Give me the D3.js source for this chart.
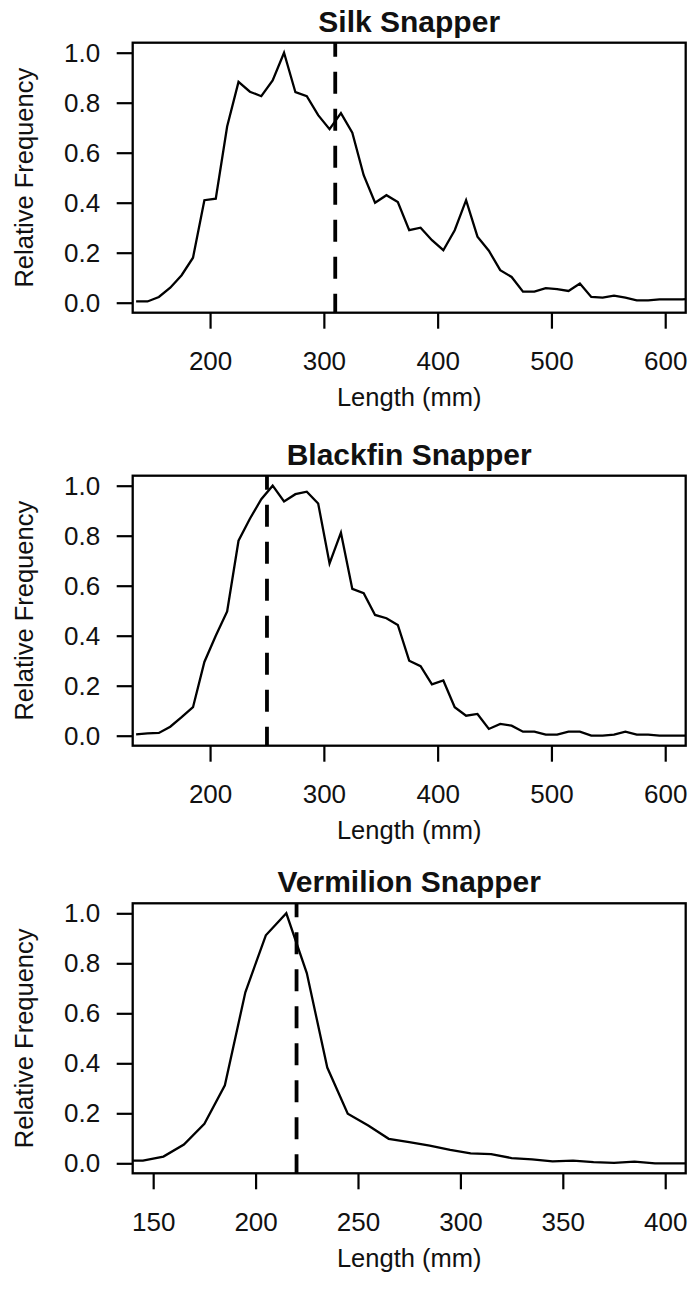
<!DOCTYPE html>
<html>
<head>
<meta charset="utf-8">
<script src="https://cdn.jsdelivr.net/npm/d3@7"></script>
<style>
  html, body { margin: 0; padding: 0; background: #fff; }
  svg { display: block; }
  text { font-family: "Liberation Sans", Arial, Helvetica, sans-serif; fill: #111; }
</style>
</head>
<body>
<svg id="chart" width="699" height="1298"></svg>
<script>
// ---------------- data ----------------
const silkLength = [135,145,155,165,175,185,195,205,215,225,235,245,255,265,275,285,295,305,315,325,335,345,355,365,375,385,395,405,415,425,435,445,455,465,475,485,495,505,515,525,535,545,555,565,575,585,595,605,615,625];
const silkFreq   = [0.005,0.005,0.023,0.06,0.11,0.18,0.41,0.416,0.705,0.883,0.844,0.826,0.889,1.0,0.842,0.826,0.75,0.694,0.758,0.68,0.51,0.40,0.43,0.403,0.29,0.30,0.25,0.21,0.29,0.41,0.264,0.208,0.13,0.103,0.044,0.044,0.058,0.054,0.047,0.077,0.023,0.02,0.028,0.02,0.009,0.009,0.013,0.013,0.013,0.017];
const silkMean = 310;

const blackfinLength = [135,145,155,165,175,185,195,205,215,225,235,245,255,265,275,285,295,305,315,325,335,345,355,365,375,385,395,405,415,425,435,445,455,465,475,485,495,505,515,525,535,545,555,565,575,585,595,605,615,625];
const blackfinFreq   = [0.005,0.009,0.011,0.036,0.074,0.114,0.295,0.40,0.497,0.78,0.868,0.946,1.0,0.937,0.966,0.976,0.929,0.689,0.812,0.587,0.57,0.483,0.47,0.443,0.30,0.278,0.205,0.221,0.114,0.08,0.087,0.027,0.047,0.04,0.016,0.016,0.004,0.004,0.016,0.016,0.0,0.0,0.004,0.016,0.004,0.004,0.0,0.0,0.0,0.0];
const blackfinMean = 250;

const vermilionLength = [135,145,155,165,175,185,195,205,215,225,235,245,255,265,275,285,295,305,315,325,335,345,355,365,375,385,395,405,415];
const vermilionFreq   = [0.01,0.011,0.027,0.075,0.158,0.312,0.684,0.912,1.0,0.761,0.383,0.198,0.151,0.098,0.085,0.071,0.054,0.04,0.037,0.021,0.016,0.008,0.011,0.005,0.002,0.007,0.0,0.0,0.0];
const vermilionMean = 220;

const titles = ["Silk Snapper", "Blackfin Snapper", "Vermilion Snapper"];
const xTicksWide = [200, 300, 400, 500, 600];
const xTicksNarrow = [150, 200, 250, 300, 350, 400];
const yTicks = [0, 0.2, 0.4, 0.6, 0.8, 1.0];
const xLabel = "Length (mm)";
const yLabel = "Relative Frequency";

// ---------------- layout ----------------
const panels = [
  { title: titles[0], len: silkLength, freq: silkFreq, mean: silkMean, xdom: [132, 618], xticks: xTicksWide, top: 42.7 },
  { title: titles[1], len: blackfinLength, freq: blackfinFreq, mean: blackfinMean, xdom: [132, 618], xticks: xTicksWide, top: 475.7 },
  { title: titles[2], len: vermilionLength, freq: vermilionFreq, mean: vermilionMean, xdom: [140, 410], xticks: xTicksNarrow, top: 903.3 }
];
const left = 132.7, right = 685.7, boxH = 270;

const svg = d3.select("#chart");

panels.forEach((p, i) => {
  const top = p.top, bottom = top + boxH;
  const x = d3.scaleLinear().domain(p.xdom).range([left, right]);
  const y = d3.scaleLinear().domain([-0.04, 1.04]).range([bottom, top]);
  const g = svg.append("g");

  const clipId = "clip" + i;
  svg.append("clipPath").attr("id", clipId)
    .append("rect").attr("x", left).attr("y", top).attr("width", right - left).attr("height", boxH);

  // data line
  const pts = p.len.map((d, k) => [d, p.freq[k]]);
  g.append("path")
    .datum(pts)
    .attr("clip-path", `url(#${clipId})`)
    .attr("fill", "none")
    .attr("stroke", "#000")
    .attr("stroke-width", 2.3)
    .attr("stroke-linejoin", "miter")
    .attr("d", d3.line().x(d => x(d[0])).y(d => y(d[1])));

  // dashed mean line (drawn bottom to top)
  g.append("line")
    .attr("x1", x(p.mean)).attr("x2", x(p.mean))
    .attr("y1", bottom).attr("y2", top)
    .attr("stroke", "#000")
    .attr("stroke-width", 3.8)
    .attr("stroke-dasharray", "22,15")
    .attr("stroke-dashoffset", 3);

  // x axis
  const xa = g.append("g").attr("transform", `translate(0,${bottom})`)
    .call(d3.axisBottom(x).tickValues(p.xticks).tickSize(16).tickFormat(d3.format("d")));
  xa.select(".domain").remove();
  xa.selectAll("line").attr("stroke", "#000").attr("stroke-width", 2.2);
  xa.selectAll("text").attr("dy", null).attr("y", 57.5)
    .style("font-size", "26px").style("font-family", '"Liberation Sans", Arial, sans-serif').attr("fill", "#111");

  // y axis
  const ya = g.append("g").attr("transform", `translate(${left},0)`)
    .call(d3.axisLeft(y).tickValues(yTicks).tickSize(16).tickPadding(16.5).tickFormat(d3.format(".1f")));
  ya.select(".domain").remove();
  ya.selectAll("line").attr("stroke", "#000").attr("stroke-width", 2.2);
  ya.selectAll("text")
    .style("font-size", "26px").style("font-family", '"Liberation Sans", Arial, sans-serif').attr("fill", "#111");

  // box
  g.append("rect")
    .attr("x", left).attr("y", top).attr("width", right - left).attr("height", boxH)
    .attr("fill", "none").attr("stroke", "#000").attr("stroke-width", 2.3);

  // title
  g.append("text")
    .attr("x", (left + right) / 2).attr("y", top - 11)
    .attr("text-anchor", "middle")
    .style("font-size", "30px").style("font-weight", "bold")
    .text(p.title);

  // x label
  g.append("text")
    .attr("x", (left + right) / 2).attr("y", bottom + 93.5)
    .attr("text-anchor", "middle")
    .style("font-size", "25.5px")
    .text(xLabel);

  // y label
  g.append("text")
    .attr("transform", `translate(33,${(top + bottom) / 2}) rotate(-90)`)
    .attr("text-anchor", "middle")
    .style("font-size", "25.5px")
    .text(yLabel);
});
</script>
</body>
</html>
